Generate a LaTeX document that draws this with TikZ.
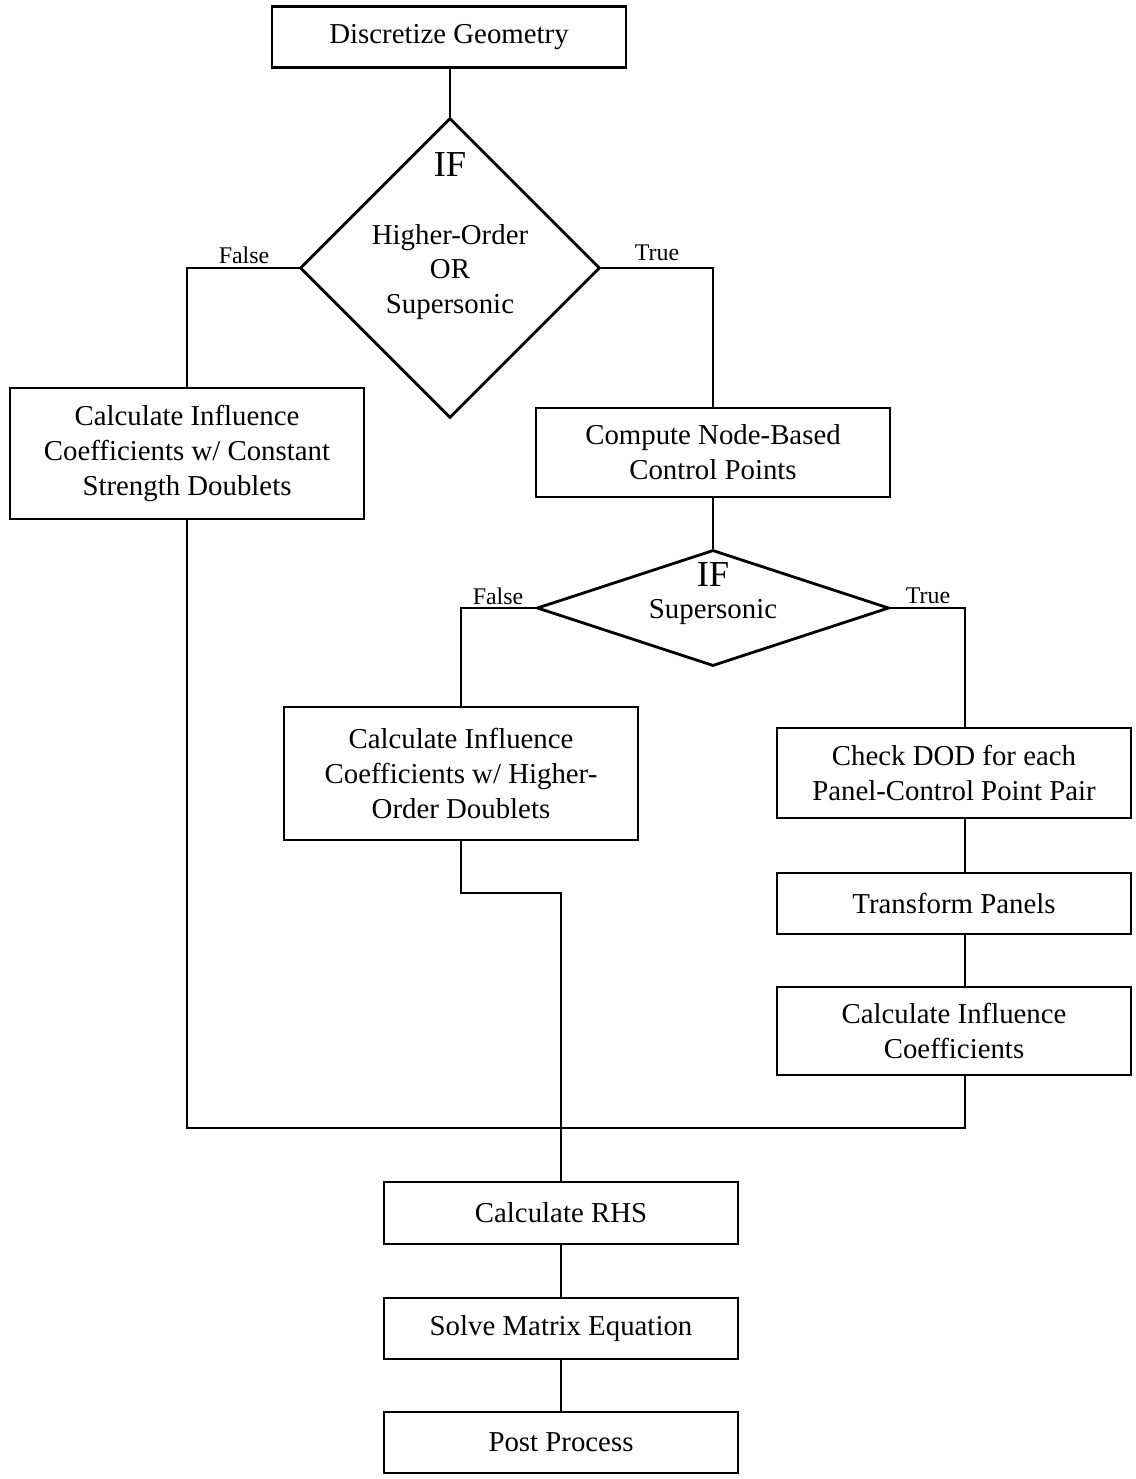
\documentclass[tikz,border=0pt]{standalone}
\usepackage{fontspec}
\setmainfont{Liberation Serif}
\usetikzlibrary{shapes.geometric}

\newcommand{\boxsz}{\fontsize{20.5}{24.8}\selectfont}
\newcommand{\lblsz}{\fontsize{17}{20}\selectfont}
\newcommand{\ifsz}{\fontsize{26}{30}\selectfont}

\begin{document}
\begin{tikzpicture}[x=0.025cm, y=-0.025cm,
  box/.style = {draw, line width=2pt, minimum width=8.85cm, inner sep=0pt, align=center, font=\boxsz},
  dec/.style = {draw, diamond, line width=2pt, inner sep=0pt},
  lbl/.style = {font=\lblsz},
  conn/.style = {line width=2pt}]

\useasboundingbox (0,0) rectangle (1136,1479);

% boxes
\node[box, minimum height=1.525cm] (geo) at (449, 37) {Discretize Geometry};

\node[dec, minimum width=7.5cm, minimum height=7.5cm] (if1) at (450, 268) {};
\node[font=\ifsz] (if1a) at (450, 165) {IF};
\node[font=\boxsz, align=center] (if1b) at (450, 272) {Higher-Order\\OR\\Supersonic};

\node[box, minimum height=3.275cm] (cicc) at (187, 453.5) {Calculate Influence\\Coefficients w/ Constant\\Strength Doublets};
\node[box, minimum height=2.225cm] (cnb) at (713, 452.5) {Compute Node-Based\\Control Points};

\node[dec, minimum width=8.8cm, minimum height=2.9cm] (if2) at (713, 608) {};
\node[font=\ifsz] (if2a) at (713, 575) {IF};
\node[font=\boxsz] (if2b) at (713, 612) {Supersonic};

\node[box, minimum height=3.325cm] (cho) at (461, 773.5) {Calculate Influence\\Coefficients w/ Higher-\\Order Doublets};
\node[box, minimum height=2.25cm] (dod) at (954, 773) {Check DOD for each\\Panel-Control Point Pair};
\node[box, minimum height=1.525cm] (tp) at (954, 903.5) {Transform Panels};
\node[box, minimum height=2.2cm] (cic) at (954, 1031) {Calculate Influence\\Coefficients};

\node[box, minimum height=1.55cm] (rhs) at (561, 1213) {Calculate RHS};
\node[box, minimum height=1.525cm] (sme) at (561, 1328.5) {Solve Matrix Equation};
\node[box, minimum height=1.525cm] (pp) at (561, 1442.5) {Post Process};

% branch labels
\node[lbl] (f1) at (244, 255) {False};
\node[lbl] (t1) at (657, 253) {True};
\node[lbl] (f2) at (498, 596) {False};
\node[lbl] (t2) at (928, 596) {True};

\coordinate (rcol) at (965, 0);
\coordinate (jog) at (561, 893);
\coordinate (join) at (561, 1128);

% connectors
\draw[conn] (geo.south -| if1.north) -- (if1.north);
\draw[conn] (if1.west) -| (cicc.north);
\draw[conn] (if1.east) -| (cnb.north);
\draw[conn] (cnb.south) -- (if2.north);
\draw[conn] (if2.west) -| (cho.north);
\draw[conn] (if2.east) -| (rcol |- dod.north);
\draw[conn] (rcol |- dod.south) -- (rcol |- tp.north);
\draw[conn] (rcol |- tp.south) -- (rcol |- cic.north);
\draw[conn] (cho.south) |- (jog) -- (rhs.north);
\draw[conn] (cicc.south) |- (join) -| (rcol |- cic.south);
\draw[conn] (rhs) -- (sme);
\draw[conn] (sme) -- (pp);

\end{tikzpicture}
\end{document}
